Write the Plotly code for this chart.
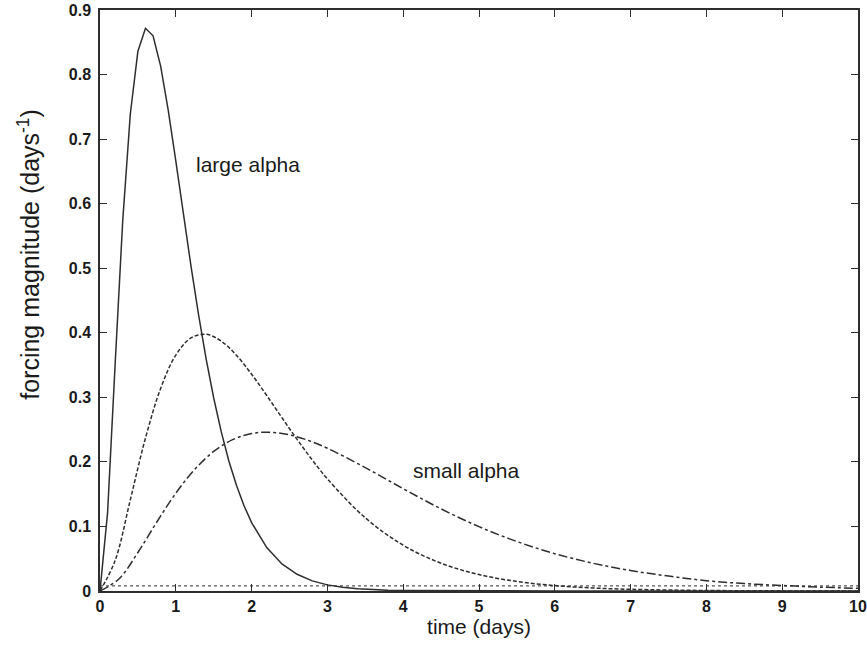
import plotly.graph_objects as go

# Large alpha (solid)
t_large = [0, 0.1, 0.2, 0.3, 0.4, 0.5, 0.6, 0.7, 0.8, 0.9, 1.0, 1.1, 1.2, 1.3, 1.4, 1.5,
           1.6, 1.7, 1.8, 1.9, 2.0, 2.2, 2.4, 2.6, 2.8, 3.0, 3.2, 3.4, 3.6, 3.8, 4.0, 5.0, 6.0, 8.0, 10.0]
f_large = [0, 0.1215, 0.3521, 0.5739, 0.7389, 0.8361, 0.8717, 0.8600, 0.8130, 0.7448, 0.6662,
           0.5839, 0.5036, 0.4280, 0.3595, 0.2990, 0.2464, 0.2015, 0.1637, 0.1321, 0.1060,
           0.0673, 0.0420, 0.0259, 0.0157, 0.0095, 0.0057, 0.0033, 0.0019, 0.0011, 0.0007,
           0.0000, 0.0, 0.0, 0.0]

# Medium alpha (dashed)
t_mid = [0, 0.2, 0.4, 0.6, 0.8, 1.0, 1.2, 1.4, 1.6, 1.8, 2.0, 2.2, 2.4, 2.6, 2.8, 3.0,
         3.5, 4.0, 4.5, 5.0, 5.5, 6.0, 6.5, 7.0, 8.0, 9.0, 10.0]
f_mid = [0, 0.0474, 0.1413, 0.2369, 0.3138, 0.3654, 0.3920, 0.3976, 0.3870, 0.3651, 0.3358,
         0.3028, 0.2685, 0.2349, 0.2030, 0.1736, 0.1133, 0.0709, 0.0430, 0.0254, 0.0148,
         0.0084, 0.0047, 0.0026, 0.0008, 0.0002, 0.0001]

# Small alpha (dash-dot)
t_small = [0, 0.25, 0.5, 0.75, 1.0, 1.25, 1.5, 1.75, 2.0, 2.25, 2.5, 2.75, 3.0, 3.5, 4.0,
           4.5, 5.0, 5.5, 6.0, 6.5, 7.0, 7.5, 8.0, 8.5, 9.0, 9.5, 10.0]
f_small = [0, 0.0187, 0.0596, 0.1069, 0.1514, 0.1884, 0.2162, 0.2344, 0.2439, 0.2459, 0.2419,
           0.2332, 0.2211, 0.1911, 0.1585, 0.1272, 0.0997, 0.0766, 0.0578, 0.0431, 0.0317,
           0.0231, 0.0160, 0.0115, 0.0085, 0.0060, 0.0042]

# Dotted baseline
t_base = [0, 10]
f_base = [0.008, 0.008]

x_ticks = [0, 1, 2, 3, 4, 5, 6, 7, 8, 9, 10]
y_ticks = [0, 0.1, 0.2, 0.3, 0.4, 0.5, 0.6, 0.7, 0.8, 0.9]
y_tick_labels = ["0", "0.1", "0.2", "0.3", "0.4", "0.5", "0.6", "0.7", "0.8", "0.9"]

labels = ["large alpha", "small alpha"]
label_x = [1.95, 4.83]
label_y = [0.66, 0.187]

x_title = "time (days)"
y_title = "forcing magnitude (days<sup>-1</sup>)"

ink = "#2e2e2e"
txt_col = "#1a1a1a"
font_fam = "Liberation Sans"

fig = go.Figure()
fig.add_trace(go.Scatter(x=t_base, y=f_base, mode="lines",
                         line=dict(color="#555555", width=1.2, dash="dot")))
fig.add_trace(go.Scatter(x=t_small, y=f_small, mode="lines", line_shape="spline",
                         line=dict(color=ink, width=1.5, dash="dashdot")))
fig.add_trace(go.Scatter(x=t_mid, y=f_mid, mode="lines", line_shape="spline",
                         line=dict(color=ink, width=1.5, dash="4px,2px")))
fig.add_trace(go.Scatter(x=t_large, y=f_large, mode="lines",
                         line=dict(color=ink, width=1.5)))

for txt, lx, ly in zip(labels, label_x, label_y):
    fig.add_annotation(x=lx, y=ly, text=txt, showarrow=False,
                       font=dict(family=font_fam, size=21, color=txt_col))

# y axis title placed as a rotated annotation (it sits above the axis centre)
fig.add_annotation(xref="paper", yref="paper", x=-0.094, y=0.58, text=y_title,
                   textangle=-90, showarrow=False, xanchor="center", yanchor="middle",
                   font=dict(family=font_fam, size=25, color=txt_col))

axis_common = dict(showline=True, linecolor=ink, linewidth=1.5, mirror="ticks",
                   ticks="inside", ticklen=7, tickwidth=1.3, tickcolor=ink,
                   showgrid=False, zeroline=False, automargin=False,
                   tickfont=dict(family=font_fam, size=16, color=txt_col, weight="bold"))

fig.update_xaxes(range=[0, 10], tickvals=x_ticks, ticktext=[str(v) for v in x_ticks],
                 title=dict(text=x_title, standoff=4,
                            font=dict(family=font_fam, size=21, color=txt_col)),
                 **axis_common)
fig.update_yaxes(range=[0, 0.9], tickvals=y_ticks, ticktext=y_tick_labels,
                 ticklabelstandoff=4, **axis_common)

fig.update_layout(width=867, height=653, showlegend=False,
                  plot_bgcolor="white", paper_bgcolor="white",
                  margin=dict(l=100, r=9, t=10, b=62))

fig.write_html("out.html")
